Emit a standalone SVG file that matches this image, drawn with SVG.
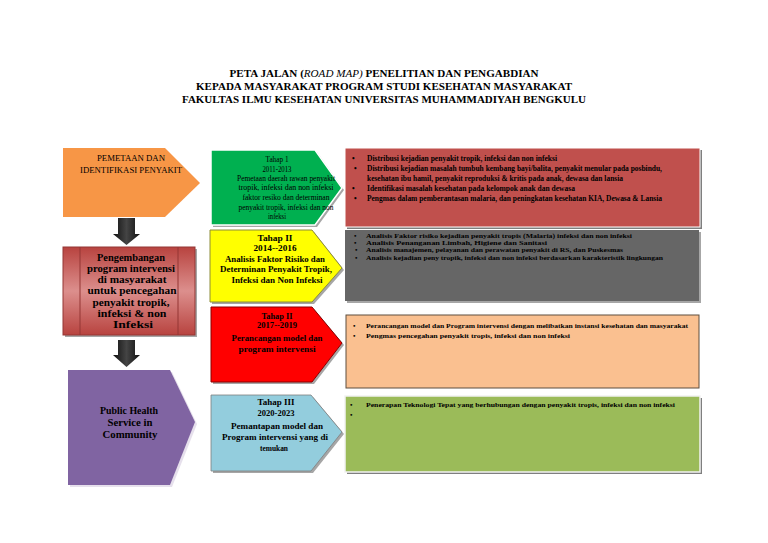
<svg xmlns="http://www.w3.org/2000/svg" width="768" height="543" viewBox="0 0 768 543">
<defs>
<linearGradient id="pinkG" x1="0" y1="0" x2="0" y2="1">
<stop offset="0" stop-color="#b8433f"/>
<stop offset="0.5" stop-color="#dc8f8d"/>
<stop offset="1" stop-color="#b8433f"/>
</linearGradient>
<linearGradient id="arrG" x1="0" y1="0" x2="1" y2="0">
<stop offset="0" stop-color="#111"/>
<stop offset="0.5" stop-color="#444"/>
<stop offset="1" stop-color="#111"/>
</linearGradient>
</defs>
<style>
text{font-family:"Liberation Serif","Times New Roman",serif;fill:#000}
.t{font-weight:bold;font-size:11px}
.c{text-anchor:middle}
.b{font-weight:bold}
.sm{font-size:8px}
.xs{font-size:7px}
.sh{fill:#a6a6a6}
</style>
<rect width="768" height="543" fill="#fff"/>

<g id="title">
<text class="t c" x="384" y="77" textLength="309" lengthAdjust="spacingAndGlyphs">PETA JALAN (<tspan font-style="italic" font-weight="normal">ROAD MAP)</tspan> PENELITIAN DAN PENGABDIAN</text>
<text class="t c" x="384" y="90" textLength="376" lengthAdjust="spacingAndGlyphs">KEPADA MASYARAKAT PROGRAM STUDI KESEHATAN MASYARAKAT</text>
<text class="t c" x="384" y="103" textLength="404" lengthAdjust="spacingAndGlyphs">FAKULTAS ILMU KESEHATAN UNIVERSITAS MUHAMMADIYAH BENGKULU</text>
</g>

<g id="connectors">
<polygon points="118,218 135,218 135,234 140,234 126.5,245 113,234 118,234" fill="url(#arrG)"/>
<polygon points="118,340 135,340 135,355 140,355 126.5,367 113,355 118,355" fill="url(#arrG)"/>
</g>

<g id="pemetaan">
<polygon points="63,148 165,148 200,183 165,217 63,217" fill="#f79646"/>
<text class="c sm" x="131" y="161" textLength="68" lengthAdjust="spacingAndGlyphs">PEMETAAN DAN</text>
<text class="c sm" x="131" y="173" textLength="102" lengthAdjust="spacingAndGlyphs">IDENTIFIKASI PENYAKIT</text>
</g>

<g id="pengembangan">
<rect x="65" y="249" width="132" height="88" class="sh"/>
<rect x="63" y="247" width="132" height="88" fill="url(#pinkG)" stroke="#943634" stroke-width="1"/>
<line x1="80" y1="247" x2="80" y2="335" stroke="#943634" stroke-width="1"/>
<line x1="178" y1="247" x2="178" y2="335" stroke="#943634" stroke-width="1"/>
<g class="b c" font-size="10">
<text x="131" y="261" textLength="68" lengthAdjust="spacingAndGlyphs">Pengembangan</text>
<text x="131" y="272" textLength="88" lengthAdjust="spacingAndGlyphs">program intervensi</text>
<text x="132" y="283" textLength="69" lengthAdjust="spacingAndGlyphs">di masyarakat</text>
<text x="132" y="294" textLength="89" lengthAdjust="spacingAndGlyphs">untuk pencegahan</text>
<text x="131" y="306" textLength="77" lengthAdjust="spacingAndGlyphs">penyakit tropik,</text>
<text x="132" y="317" textLength="69" lengthAdjust="spacingAndGlyphs">infeksi &amp; non</text>
<text x="133" y="328" textLength="40" lengthAdjust="spacingAndGlyphs">Infeksi</text>
</g>
</g>

<g id="phs">
<polygon points="70,372 172,372 197,424 172,487 70,487" fill="#e6e0ec"/>
<polygon points="68,370 170,370 195,422 170,485 68,485" fill="#8064a2"/>
<g class="b c" font-size="10">
<text x="129" y="414" textLength="58" lengthAdjust="spacingAndGlyphs">Public Health</text>
<text x="130" y="426" textLength="45" lengthAdjust="spacingAndGlyphs">Service in</text>
<text x="130" y="438" textLength="55" lengthAdjust="spacingAndGlyphs">Community</text>
</g>
</g>

<g id="tahap1">
<polygon points="213,152 317,152 344,190 317,227 213,227" class="sh"/>
<polygon points="211,150 315,150 342,188 315,225 211,225" fill="#00b050" stroke="#fff" stroke-width="1.5"/>
<g class="c" font-size="8">
<text x="277" y="162" textLength="23" lengthAdjust="spacingAndGlyphs">Tahap 1</text>
<text x="277" y="172" textLength="29" lengthAdjust="spacingAndGlyphs">2011-2013</text>
<text x="286" y="181" textLength="98" lengthAdjust="spacingAndGlyphs">Pemetaan daerah rawan penyakit</text>
<text x="286" y="190" textLength="95" lengthAdjust="spacingAndGlyphs">tropik, infeksi dan non infeksi</text>
<text x="286" y="200" textLength="87" lengthAdjust="spacingAndGlyphs">faktor resiko dan determinan</text>
<text x="286" y="210" textLength="95" lengthAdjust="spacingAndGlyphs">penyakit tropik, infeksi dan non</text>
<text x="277" y="219" textLength="18" lengthAdjust="spacingAndGlyphs">infeksi</text>
</g>
</g>

<g id="tahap2">
<polygon points="212,232 314,232 344,270 314,304 212,304" class="sh"/>
<polygon points="210,230 312,230 342,268 312,302 210,302" fill="#ffff00" stroke="#8c8c3a" stroke-width="1"/>
<g class="c b" font-size="9">
<text x="275" y="241" textLength="35" lengthAdjust="spacingAndGlyphs">Tahap II</text>
<text x="275" y="251" textLength="43" lengthAdjust="spacingAndGlyphs">2014--2016</text>
<text x="275" y="262" textLength="100" lengthAdjust="spacingAndGlyphs">Analisis Faktor Risiko dan</text>
<text x="276" y="272" textLength="112" lengthAdjust="spacingAndGlyphs">Determinan Penyakit Tropik,</text>
<text x="277" y="283" textLength="91" lengthAdjust="spacingAndGlyphs">Infeksi dan Non Infeksi</text>
</g>
</g>

<g id="tahap3">
<polygon points="213,309 314,309 344,345 314,384 213,384" class="sh"/>
<polygon points="211,307 312,307 342,343 312,382 211,382" fill="#ff0000" stroke="#8b0000" stroke-width="1"/>
<g class="c b" font-size="9">
<text x="277" y="319" textLength="31" lengthAdjust="spacingAndGlyphs">Tahap II</text>
<text x="277" y="328" textLength="40" lengthAdjust="spacingAndGlyphs">2017--2019</text>
<text x="277" y="341" textLength="91" lengthAdjust="spacingAndGlyphs">Perancangan model dan</text>
<text x="277" y="352" textLength="77" lengthAdjust="spacingAndGlyphs">program intervensi</text>
</g>
</g>

<g id="tahap4">
<polygon points="213,397 313,397 344,434 313,473 213,473" class="sh"/>
<polygon points="211,395 311,395 342,432 311,471 211,471" fill="#93cddd" stroke="#7f7f7f" stroke-width="0.8"/>
<g class="c b" font-size="9">
<text x="276" y="405" textLength="37" lengthAdjust="spacingAndGlyphs">Tahap III</text>
<text x="276" y="416" textLength="37" lengthAdjust="spacingAndGlyphs">2020-2023</text>
<text x="277" y="429" textLength="92" lengthAdjust="spacingAndGlyphs">Pemantapan model dan</text>
<text x="275" y="440" textLength="106" lengthAdjust="spacingAndGlyphs">Program intervensi yang di</text>
<text x="274" y="451" textLength="28" lengthAdjust="spacingAndGlyphs">temukan</text>
</g>
</g>

<g id="box1">
<rect x="347" y="150" width="355" height="79" fill="#7f7f7f"/>
<rect x="345" y="148" width="355" height="79" fill="#c0504d" stroke="#fff" stroke-width="1"/>
<g class="b" font-size="7.5">
<text x="352" y="161">•</text>
<text x="367" y="161" textLength="190" lengthAdjust="spacingAndGlyphs">Distribusi kejadian penyakit tropik, infeksi dan non infeksi</text>
<text x="354" y="171">•</text>
<text x="367" y="171" textLength="295" lengthAdjust="spacingAndGlyphs">Distribusi kejadian masalah tumbuh kembang bayi/balita, penyakit menular pada posbindu,</text>
<text x="367" y="181" textLength="256" lengthAdjust="spacingAndGlyphs">kesehatan ibu hamil, penyakit reproduksi &amp; kritis pada anak, dewasa dan lansia</text>
<text x="352" y="191">•</text>
<text x="367" y="191" textLength="208" lengthAdjust="spacingAndGlyphs">Identifikasi masalah kesehatan pada kelompok anak dan dewasa</text>
<text x="354" y="201">•</text>
<text x="367" y="201" textLength="295" lengthAdjust="spacingAndGlyphs">Pengmas dalam pemberantasan malaria, dan peningkatan kesehatan KIA, Dewasa &amp; Lansia</text>
</g>
</g>

<g id="box2">
<rect x="347" y="232" width="354" height="71" fill="#a6a6a6"/>
<rect x="345" y="230" width="354" height="71" fill="#666666"/>
<g class="b" font-size="7">
<text x="354" y="237.5">•</text>
<text x="366" y="237.5" textLength="266" lengthAdjust="spacingAndGlyphs">Analisis Faktor risiko kejadian penyakit tropis (Malaria) infeksi dan non infeksi</text>
<text x="354" y="244.5">•</text>
<text x="366" y="244.5" textLength="181" lengthAdjust="spacingAndGlyphs">Analisis Penanganan Limbah, Higiene dan Sanitasi</text>
<text x="355" y="252">•</text>
<text x="366" y="252" textLength="257" lengthAdjust="spacingAndGlyphs">Analisis manajemen, pelayanan dan perawatan penyakit di RS, dan Puskesmas</text>
<text x="355" y="259.5">•</text>
<text x="366" y="259.5" textLength="297" lengthAdjust="spacingAndGlyphs">Analisis kejadian peny tropik, infeksi dan non infeksi berdasarkan karakteristik lingkungan</text>
</g>
</g>

<g id="box3">
<rect x="346" y="315" width="353" height="73" fill="#fac090" stroke="#5f4f3f" stroke-width="1"/>
<g class="b" font-size="7">
<text x="353" y="328">•</text>
<text x="366" y="328" textLength="322" lengthAdjust="spacingAndGlyphs">Perancangan model dan Program intervensi dengan melibatkan instansi kesehatan dan masyarakat</text>
<text x="353" y="338">•</text>
<text x="366" y="338" textLength="204" lengthAdjust="spacingAndGlyphs">Pengmas pencegahan penyakit tropis, infeksi dan non infeksi</text>
</g>
</g>

<g id="box4">
<rect x="347" y="398" width="355" height="76" fill="#7f7f7f"/>
<rect x="345" y="396" width="355" height="76" fill="#9bbb59" stroke="#f2f2f2" stroke-width="1.5"/>
<g class="b" font-size="7">
<text x="350" y="407">•</text>
<text x="366" y="407" textLength="309" lengthAdjust="spacingAndGlyphs">Penerapan Teknologi Tepat yang berhubungan dengan penyakit tropis, infeksi dan non infeksi</text>
<text x="350" y="417">•</text>
</g>
</g>
</svg>
